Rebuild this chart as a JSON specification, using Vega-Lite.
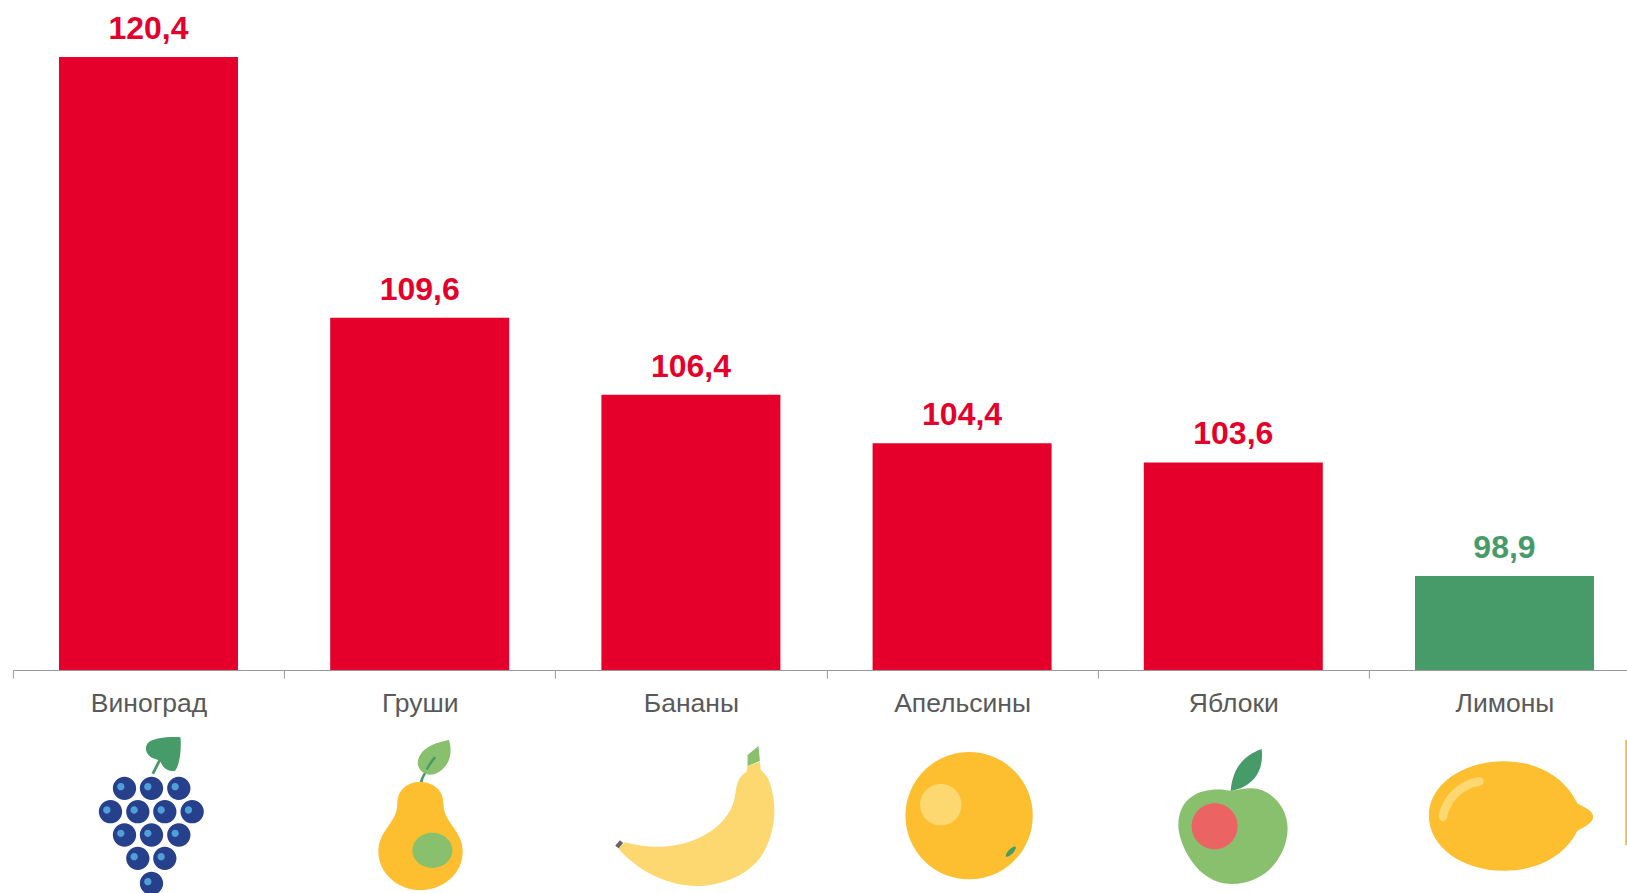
{
"$schema":"https://vega.github.io/schema/vega-lite/v6.json",
"autosize":"none","width":1614,"height":613,
"padding":{"left":12.9,"top":57,"right":0,"bottom":223},
"background":"white",
"config":{"view":{"stroke":null},"font":"Liberation Sans"},
"datasets":{
"bars":[
{"fruit":"Виноград","value":120.4,"label":"120,4","tone":"red"},
{"fruit":"Груши","value":109.6,"label":"109,6","tone":"red"},
{"fruit":"Бананы","value":106.4,"label":"106,4","tone":"red"},
{"fruit":"Апельсины","value":104.4,"label":"104,4","tone":"red"},
{"fruit":"Яблоки","value":103.6,"label":"103,6","tone":"red"},
{"fruit":"Лимоны","value":98.9,"label":"98,9","tone":"green"}],
"icons":[
{"fruit":"Виноград","part":"grape-leaf","tone":"green"},
{"fruit":"Виноград","part":"grape-berries","tone":"blue"},
{"fruit":"Виноград","part":"grape-glints","tone":"sky"},
{"fruit":"Груши","part":"pear-stem","tone":"green"},
{"fruit":"Груши","part":"pear-leaf","tone":"leaf"},
{"fruit":"Груши","part":"pear-vein","tone":"green"},
{"fruit":"Груши","part":"pear-body","tone":"amber"},
{"fruit":"Груши","part":"pear-spot","tone":"leaf"},
{"fruit":"Бананы","part":"banana-body","tone":"pale"},
{"fruit":"Бананы","part":"banana-stalk","tone":"leaf"},
{"fruit":"Бананы","part":"banana-end","tone":"grey"},
{"fruit":"Апельсины","part":"orange-body","tone":"amber"},
{"fruit":"Апельсины","part":"orange-glint","tone":"pale"},
{"fruit":"Апельсины","part":"orange-spot","tone":"green"},
{"fruit":"Яблоки","part":"apple-body","tone":"leaf"},
{"fruit":"Яблоки","part":"apple-spot","tone":"rose"},
{"fruit":"Яблоки","part":"apple-leaf","tone":"green"},
{"fruit":"Лимоны","part":"lemon-body","tone":"amber"},
{"fruit":"Лимоны","part":"lemon-glint","tone":"pale"},
{"fruit":"Лимоны","part":"next-edge","tone":"amber"}]
},
"encoding":{
"x":{"field":"fruit","type":"nominal",
"scale":{"domain":["Виноград","Груши","Бананы","Апельсины","Яблоки","Лимоны"],"range":[0,1627.2],"paddingInner":0.34,"paddingOuter":0.17},
"axis":{"title":null,"labelAngle":0,"tickOffset":-135.6,"labelOffset":135.6,"domainColor":"#999999","tickColor":"#999999","tickSize":8,"labelFontSize":26.5,"labelColor":"#595959","labelPadding":13,"labelFont":"Liberation Sans","zindex":0}}
},
"layer":[
{"data":{"name":"bars"},"mark":{"type":"bar"},
"encoding":{"y":{"field":"value","type":"quantitative","axis":null,"stack":null,"scale":{"domain":[95,120.4],"nice":false,"zero":false}},
"y2":{"datum":95},
"color":{"field":"tone","type":"nominal","legend":null,"scale":{"domain":["red","green","blue","sky","leaf","amber","pale","grey","rose"],"range":["#e4002b","#469b69","#27408b","#4f9fdb","#89c06d","#fdbf30","#fdd870","#666666","#ec6364"]}}}},
{"data":{"name":"bars"},"mark":{"type":"text","fontSize":32,"fontWeight":"bold","baseline":"alphabetic","dy":-18,"font":"Liberation Sans"},
"encoding":{"y":{"field":"value","type":"quantitative"},"text":{"field":"label"},"color":{"field":"tone","type":"nominal","legend":null}}},
{"data":{"name":"icons"},"mark":{"type":"point","filled":true,"opacity":1,"size":0.44444,"yOffset":110,"strokeWidth":0},
"encoding":{"y":{"datum":95,"type":"quantitative"},
"color":{"field":"tone","type":"nominal","legend":null},
"shape":{"field":"part","type":"nominal","legend":null,"scale":{
"domain":["grape-leaf","grape-berries","grape-glints","pear-stem","pear-leaf","pear-vein","pear-body","pear-spot","banana-body","banana-stalk","banana-end","orange-body","orange-glint","orange-spot","apple-body","apple-spot","apple-leaf","lemon-body","lemon-glint","next-edge"],
"range":[
"M96 -128C64 -130 19 -128 -1 -112C-14 -98 -8 -75 14 -65L29 -60L9 -20L17 -17L36 -55C44 -35 59 -25 79 -27C94 -45 99 -90 96 -128Z",
"M-107 25a35 35 0 1 0 70 0a35 35 0 1 0 -70 0ZM-26 25a35 35 0 1 0 70 0a35 35 0 1 0 -70 0ZM56 25a35 35 0 1 0 70 0a35 35 0 1 0 -70 0ZM-149 95a35 35 0 1 0 70 0a35 35 0 1 0 -70 0ZM-67 95a35 35 0 1 0 70 0a35 35 0 1 0 -70 0ZM14 95a35 35 0 1 0 70 0a35 35 0 1 0 -70 0ZM96 95a35 35 0 1 0 70 0a35 35 0 1 0 -70 0ZM-107 165a35 35 0 1 0 70 0a35 35 0 1 0 -70 0ZM-26 165a35 35 0 1 0 70 0a35 35 0 1 0 -70 0ZM56 165a35 35 0 1 0 70 0a35 35 0 1 0 -70 0ZM-67 235a35 35 0 1 0 70 0a35 35 0 1 0 -70 0ZM14 235a35 35 0 1 0 70 0a35 35 0 1 0 -70 0ZM-26 310a35 35 0 1 0 70 0a35 35 0 1 0 -70 0Z",
"M-94 20a11 11 0 1 0 22 0a11 11 0 1 0 -22 0ZM-13 20a11 11 0 1 0 22 0a11 11 0 1 0 -22 0ZM69 20a11 11 0 1 0 22 0a11 11 0 1 0 -22 0ZM-136 90a11 11 0 1 0 22 0a11 11 0 1 0 -22 0ZM-54 90a11 11 0 1 0 22 0a11 11 0 1 0 -22 0ZM27 90a11 11 0 1 0 22 0a11 11 0 1 0 -22 0ZM109 90a11 11 0 1 0 22 0a11 11 0 1 0 -22 0ZM-94 160a11 11 0 1 0 22 0a11 11 0 1 0 -22 0ZM-13 160a11 11 0 1 0 22 0a11 11 0 1 0 -22 0ZM69 160a11 11 0 1 0 22 0a11 11 0 1 0 -22 0ZM-54 230a11 11 0 1 0 22 0a11 11 0 1 0 -22 0ZM27 230a11 11 0 1 0 22 0a11 11 0 1 0 -22 0ZM-13 305a11 11 0 1 0 22 0a11 11 0 1 0 -22 0Z",
"M20 -32L26 -28C18 -18 12 -8 8 8L0 7C4 -10 12 -22 20 -32Z",
"M88 -120C46 -112 -4 -95 -6 -50C-4 -25 21 -10 46 -18C86 -35 101 -75 88 -120Z",
"M43 -71L49 -66C38 -52 30 -42 24 -30L18 -33C24 -46 33 -58 43 -71Z",
"M1 6C-37 6 -67 30 -67 70C-67 130 -124 150 -124 215C-124 280 -64 330 1 330C71 330 129 280 129 215C129 150 71 130 71 70C71 30 39 6 1 6Z",
"M-22 211a60 53 0 1 0 120 0a60 53 0 1 0 -120 0Z",
"M170 -42L207 -55L209 -32C222 -15 232 -10 237 10C257 70 257 140 222 210C187 280 97 318 17 318C-83 318 -173 260 -218 205L-198 187C-153 200 -93 205 -43 195C37 180 117 130 132 50C137 10 142 -10 167 -25Z",
"M170 -75L203 -102L207 -57L170 -42Z",
"M-227 197L-213 181L-203 189L-217 205Z",
"M-170 107a191 191 0 1 0 382 0a191 191 0 1 0 -382 0Z",
"M-126 74a62 62 0 1 0 124 0a62 62 0 1 0 -124 0Z",
"M131 230C130 218 150 198 161 200C163 212 143 232 131 230Z",
"M-5 33C-40 25 -90 25 -125 50C-155 70 -165 105 -165 135C-165 190 -110 312 -5 312C100 312 163 225 163 145C163 80 110 25 55 25C30 25 10 30 -5 33Z",
"M-125 139a69 69 0 1 0 138 0a69 69 0 1 0 -138 0Z",
"M85 -93C35 -75 -2 -40 -8 33C40 25 95 -10 85 -93Z",
"M-227 107C-227 15 -127 -56 -2 -56C103 -56 183 -5 218 70C233 80 266 90 266 110C266 130 238 140 218 153C183 225 103 272 -2 272C-127 272 -227 200 -227 107Z",
"M-77 -8C-132 0 -182 40 -197 105C-200 125 -177 130 -172 112C-162 65 -127 25 -74 18C-57 15 -59 -10 -77 -8Z",
"M362 -120L400 -120L400 195L362 195Z"
]}}}}
]
}
